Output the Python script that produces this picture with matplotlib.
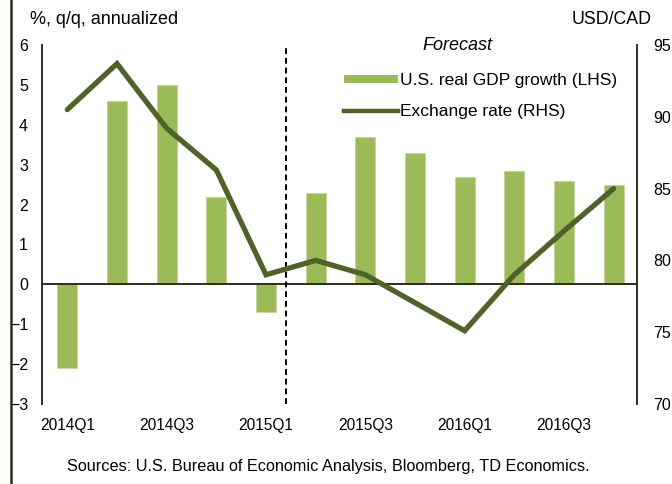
import matplotlib
matplotlib.use("Agg")
import matplotlib.pyplot as plt
from matplotlib.lines import Line2D
from matplotlib.patches import Patch

plt.rcParams['font.family'] = ['Liberation Sans', 'DejaVu Sans']

quarters = ["2014Q1", "2014Q2", "2014Q3", "2014Q4", "2015Q1", "2015Q2",
            "2015Q3", "2015Q4", "2016Q1", "2016Q2", "2016Q3", "2016Q4"]
gdp_growth = [-2.1, 4.6, 5.0, 2.2, -0.7, 2.3, 3.7, 3.3, 2.7, 2.85, 2.6, 2.5]
exchange_rate = [90.5, 93.7, 89.2, 86.3, 79.0, 80.0, 79.0, 77.05, 75.1, 79.0, 82.05, 85.0]
tick_labels = ["2014Q1", "2014Q3", "2015Q1", "2015Q3", "2016Q1", "2016Q3"]
forecast_start = 4.4

bar_color = "#9BBB59"
line_color = "#4F6228"
axis_color = "#2B2F1E"

fig = plt.figure(figsize=(6.72, 4.84), dpi=100)
ax = fig.add_axes([42/672, 1-404/484, (637-42)/672, (404-45)/484])
ax2 = ax.twinx()

x = list(range(len(quarters)))
ax.bar(x, gdp_growth, width=0.4, color=bar_color, edgecolor="#C3D69B", linewidth=0.6, zorder=2)
ax.axhline(0, color=axis_color, lw=1.4, zorder=3)
ax.axvline(forecast_start, color="black", lw=1.4, ls=(0, (3, 2)), zorder=3)

ax2.plot(x, exchange_rate, color=line_color, lw=3.8, solid_capstyle="round",
         solid_joinstyle="miter", zorder=4)

ax.set_xlim(-0.51, 11.47)
ax.set_ylim(-3, 6)
ax2.set_ylim(70, 95)
ax.set_yticks(range(-3, 7))
ax2.set_yticks(range(70, 96, 5))
ax.set_xticks([quarters.index(t) for t in tick_labels])
ax.set_xticklabels(tick_labels)

for a in (ax, ax2):
    a.spines['top'].set_visible(False)
    a.spines['bottom'].set_visible(False)
    a.spines['left'].set_color(axis_color)
    a.spines['right'].set_color(axis_color)
    a.spines['left'].set_linewidth(1.4)
    a.spines['right'].set_linewidth(1.4)
ax.spines['right'].set_visible(False)
ax2.spines['left'].set_visible(False)

ax.tick_params(axis='y', length=0, pad=10, labelsize=11.5)
ax2.tick_params(axis='y', length=0, pad=11.5, labelsize=11.5)
ax.tick_params(axis='x', length=0, pad=10, labelsize=11.2)

fig.text(30/672, 1-20/484, "%, q/q, annualized", fontsize=13, ha="left", va="center")
fig.text(652/672, 1-20/484, "USD/CAD", fontsize=12.8, ha="right", va="center")
fig.text(457/672, 1-45/484, "Forecast", fontsize=13, style="italic", ha="center", va="center")
fig.text(328/672, 1-467/484, "Sources: U.S. Bureau of Economic Analysis, Bloomberg, TD Economics.",
         fontsize=11.7, ha="center", va="center")

handles = [Patch(facecolor=bar_color, edgecolor="none"),
           Line2D([0], [0], color=line_color, lw=3.2)]
labels = ["U.S. real GDP growth (LHS)", "Exchange rate (RHS)"]
fig.legend(handles, labels, loc="upper left", bbox_to_anchor=(337/672, 1-66/484),
           frameon=False, fontsize=12.5, handlelength=3.1, handleheight=0.3,
           handletextpad=0.15, labelspacing=0.92, borderaxespad=0)

fig.add_artist(Line2D([11/672, 11/672], [0, 1], transform=fig.transFigure,
                      color=axis_color, lw=1.8))

fig.savefig("out.png", dpi=100)
